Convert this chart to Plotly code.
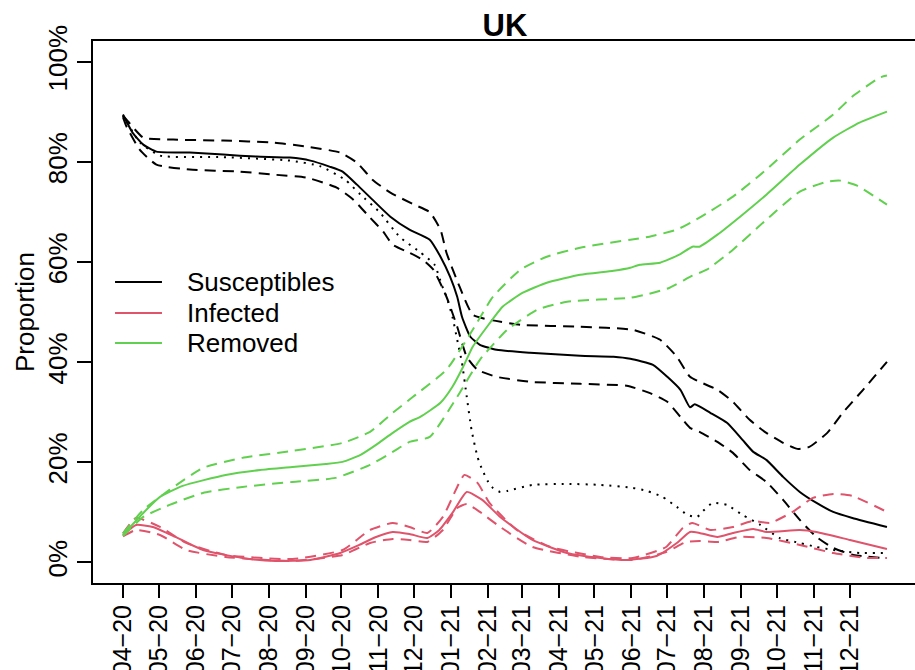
import pandas as pd
import plotly.graph_objects as go

START = pd.Timestamp("2020-04-01")

# ---------------- data (day offsets from 2020-04-01, values in %) ----------------
s_mid_day = [0, 8, 17, 28, 56, 84, 112, 140, 157, 173, 184, 196, 209, 224, 240, 257, 266, 274, 280, 284,
             291, 299, 313, 341, 383, 411, 425, 444, 456, 467, 475, 479, 492, 506, 519, 528, 539, 553, 567, 581,
             595, 611, 640]
s_mid_val = [89.5, 85.9, 83.5, 82.1, 81.9, 81.5, 81.1, 80.9, 80.3, 79.1, 78.1, 75.5, 72.5, 69.1, 66.5, 64.5, 61.1, 57.1, 53.1, 49.1,
             45.1, 43.5, 42.5, 41.9, 41.3, 41.1, 40.7, 39.5, 37.1, 34.5, 31.0, 31.6, 29.9, 27.9, 24.5, 22.1, 20.5, 17.1, 14.1, 11.9,
             10.1, 8.9, 7.1]

s_hi_day = [0, 3, 17, 42, 84, 126, 154, 182, 196, 209, 224, 244, 257, 266, 271, 282, 293, 307, 333, 383,
            427, 450, 464, 475, 483, 498, 511, 525, 539, 553, 565, 575, 590, 603, 620, 640]
s_hi_val = [89.3, 88.5, 84.9, 84.5, 84.3, 83.9, 83.1, 81.9, 79.9, 76.5, 73.9, 71.5, 70.0, 66.5, 61.9, 55.1, 49.5, 48.5, 47.5, 47.1,
            46.5, 44.5, 41.1, 37.1, 36.1, 34.5, 32.1, 28.5, 25.9, 23.9, 22.7, 23.1, 25.9, 29.9, 34.5, 40.1]

s_lo_day = [0, 3, 14, 28, 56, 98, 126, 154, 179, 193, 207, 218, 226, 240, 251, 260, 271, 280, 288, 297,
            313, 341, 383, 422, 441, 456, 467, 475, 483, 498, 511, 525, 539, 553, 567, 581, 595, 612, 637]
s_lo_val = [89.0, 87.1, 82.5, 79.5, 78.5, 78.1, 77.5, 76.9, 74.9, 72.5, 68.9, 66.1, 63.5, 61.9, 60.5, 58.5, 53.1, 47.1, 41.1, 38.5,
            37.1, 36.1, 35.7, 35.3, 33.9, 32.1, 29.1, 26.9, 26.1, 24.1, 21.9, 18.5, 16.1, 12.5, 8.5, 5.1, 2.9, 1.5, 0.9]

s_dot_day = [0, 14, 31, 84, 140, 165, 186, 199, 215, 232, 249, 261, 267, 271, 276, 280, 284, 288, 292, 297,
             301, 306, 310, 316, 322, 343, 372, 400, 427, 439, 452, 464, 473, 481, 486, 494, 506, 519, 534, 550,
             567, 581, 595, 617, 640]
s_dot_val = [89.3, 84.0, 81.3, 81.0, 80.3, 79.2, 76.5, 73.5, 70.0, 65.0, 62.0, 59.5, 55.5, 53.1, 49.1, 44.5, 39.9, 33.1, 26.5, 21.1,
             18.5, 16.1, 14.9, 14.1, 14.3, 15.5, 15.7, 15.5, 14.9, 14.3, 13.1, 11.1, 9.5, 9.1, 10.3, 11.9, 11.5, 9.5, 7.5, 4.9,
             3.9, 3.1, 2.5, 1.9, 1.9]

i_mid_day = [0, 11, 25, 44, 67, 100, 128, 157, 182, 198, 212, 226, 240, 255, 265, 276, 288, 301, 316, 343,
             372, 400, 422, 447, 464, 475, 483, 498, 511, 528, 539, 567, 581, 609, 640]
i_mid_val = [5.5, 7.5, 7.1, 5.1, 2.5, 0.9, 0.3, 0.5, 1.9, 3.5, 5.1, 6.1, 5.7, 4.9, 6.5, 9.9, 14.1, 12.5, 9.1, 4.5,
             1.9, 0.9, 0.5, 1.3, 3.9, 6.1, 5.9, 5.1, 5.9, 6.7, 6.1, 6.5, 6.1, 4.5, 2.7]

i_hi_day = [0, 11, 31, 53, 86, 142, 184, 207, 226, 240, 255, 268, 280, 286, 297, 307, 330, 358, 400, 427,
            455, 469, 477, 492, 511, 528, 542, 561, 578, 595, 611, 640]
i_hi_val = [5.8, 8.9, 7.1, 3.9, 1.5, 0.7, 2.5, 6.5, 7.9, 7.1, 5.9, 9.1, 15.1, 17.5, 15.9, 11.9, 6.5, 3.1, 1.1, 0.9,
            3.1, 6.9, 7.9, 6.5, 7.1, 8.3, 7.9, 10.1, 12.9, 13.7, 13.3, 10.1]

i_lo_day = [0, 11, 31, 53, 86, 142, 184, 207, 226, 240, 255, 268, 280, 288, 299, 316, 343, 385, 427, 455,
            472, 483, 498, 517, 539, 567, 595, 623, 640]
i_lo_val = [5.2, 6.5, 5.5, 2.5, 1.1, 0.3, 1.5, 3.9, 4.7, 4.5, 4.1, 6.5, 10.9, 11.7, 10.1, 7.1, 3.1, 1.1, 0.5, 2.1,
            4.1, 4.3, 4.1, 5.1, 4.9, 3.5, 1.9, 0.9, 0.9]

r_mid_day = [0, 17, 31, 50, 86, 115, 142, 170, 184, 199, 212, 226, 240, 249, 266, 276, 285, 293, 305, 318,
             335, 355, 383, 411, 425, 433, 450, 466, 477, 483, 498, 519, 539, 567, 595, 617, 640]
r_mid_val = [5.5, 9.9, 13.1, 15.3, 17.5, 18.5, 19.1, 19.7, 20.1, 21.5, 23.5, 25.9, 28.1, 29.1, 31.9, 35.1, 39.1, 43.1, 47.1, 51.1,
             53.9, 55.9, 57.5, 58.3, 58.9, 59.5, 59.9, 61.5, 63.1, 63.1, 65.5, 69.5, 73.5, 79.5, 84.9, 87.9, 90.1]

r_hi_day = [0, 17, 39, 67, 100, 142, 184, 207, 226, 243, 271, 293, 310, 333, 355, 383, 425, 441, 464, 483,
            511, 539, 567, 595, 611, 634, 640]
r_hi_val = [5.8, 10.5, 14.5, 18.9, 20.9, 22.3, 23.9, 26.1, 29.9, 33.1, 38.5, 46.5, 53.1, 58.5, 61.1, 62.9, 64.5, 65.1, 66.5, 68.9,
            73.1, 78.5, 84.5, 89.5, 93.1, 96.9, 97.3]

r_lo_day = [0, 17, 39, 67, 100, 142, 178, 207, 226, 240, 257, 280, 299, 322, 347, 372, 425, 441, 458, 477,
            489, 511, 539, 567, 590, 601, 615, 640]
r_lo_val = [5.3, 9.1, 11.5, 13.9, 15.1, 16.1, 16.9, 19.5, 22.1, 24.1, 25.1, 33.1, 40.5, 46.5, 50.5, 52.1, 52.9, 53.7, 54.9, 57.3,
            58.5, 62.5, 68.5, 74.1, 76.1, 76.3, 75.3, 71.5]

series_names = ["Susceptibles", "Infected", "Removed"]
series_colors = ["#000000", "#DF536B", "#61D04F"]

tick_months = pd.date_range("2020-04-01", "2021-12-01", freq="MS")
tick_labels = [d.strftime("%m") + "\u2212" + d.strftime("%y") for d in tick_months]
y_ticks = [0, 20, 40, 60, 80, 100]
y_labels = [f"{v}%" for v in y_ticks]


def to_dates(days):
    return START + pd.to_timedelta(days, unit="D")


fig = go.Figure()


def add(days, vals, color, dash):
    fig.add_trace(go.Scatter(
        x=to_dates(days), y=vals, mode="lines",
        line=dict(color=color, width=2, dash=dash, shape="spline", smoothing=0.5),
        showlegend=False, hoverinfo="skip"))


DASH = "11px,7px"
DOT = "2px,6px"
add(s_hi_day, s_hi_val, series_colors[0], DASH)
add(s_lo_day, s_lo_val, series_colors[0], DASH)
add(s_dot_day, s_dot_val, series_colors[0], DOT)
add(s_mid_day, s_mid_val, series_colors[0], "solid")
add(i_hi_day, i_hi_val, series_colors[1], DASH)
add(i_lo_day, i_lo_val, series_colors[1], DASH)
add(i_mid_day, i_mid_val, series_colors[1], "solid")
add(r_hi_day, r_hi_val, series_colors[2], DASH)
add(r_lo_day, r_lo_val, series_colors[2], DASH)
add(r_mid_day, r_mid_val, series_colors[2], "solid")

FONT = "Liberation Sans, Arial, Helvetica, sans-serif"

# manual legend (R-style)
shapes = []
annotations = []
leg_y = [0.5554, 0.4982, 0.4428]
for name, color, yy in zip(series_names, series_colors, leg_y):
    shapes.append(dict(type="line", xref="paper", yref="paper", x0=0.0268, x1=0.0839, y0=yy, y1=yy,
                       line=dict(color=color, width=2)))
    annotations.append(dict(text=name, xref="paper", yref="paper", x=0.1119, y=yy, xanchor="left",
                            yanchor="middle", showarrow=False, font=dict(size=26, color="black", family=FONT)))

annotations.append(dict(text="Proportion", xref="paper", yref="paper", x=0, y=0.5, xshift=-68,
                        xanchor="center", yanchor="middle", textangle=-90, showarrow=False,
                        font=dict(size=26, color="black", family=FONT)))

x_lo = START - pd.Timedelta(days=25.1)
x_hi = START + pd.Timedelta(days=663.5)

fig.update_layout(
    width=915, height=670,
    margin=dict(l=93, r=0, t=41, b=87, pad=0, autoexpand=False),
    paper_bgcolor="white", plot_bgcolor="white",
    font=dict(family=FONT, size=26, color="black"),
    showlegend=False,
    title=dict(text="<b>UK</b>", x=505 / 915, xanchor="center", y=1 - 25 / 670, yanchor="middle",
               font=dict(size=31, family=FONT, color="black")),
    shapes=shapes, annotations=annotations,
    xaxis=dict(type="date", range=[x_lo, x_hi], tickmode="array", tickvals=tick_months, ticktext=tick_labels,
               tickangle=-90, ticks="outside", ticklen=13, tickwidth=2, tickcolor="black",
               ticklabelstandoff=-3,
               showline=True, linewidth=2, linecolor="black", mirror=True, automargin=False,
               showgrid=False, zeroline=False, tickfont=dict(size=25, family=FONT, color="black")),
    yaxis=dict(range=[-4.1, 104.2], tickmode="array", tickvals=y_ticks, ticktext=y_labels,
               tickangle=-90, ticks="outside", ticklen=14, tickwidth=2, tickcolor="black",
               showline=True, linewidth=2, linecolor="black", mirror=False, automargin=False,
               showgrid=False, zeroline=False, tickfont=dict(size=26, family=FONT, color="black")),
)

fig.write_html("out.html", config={"displayModeBar": False},
               post_script="document.body.style.margin='0px';document.body.style.overflow='hidden';")
